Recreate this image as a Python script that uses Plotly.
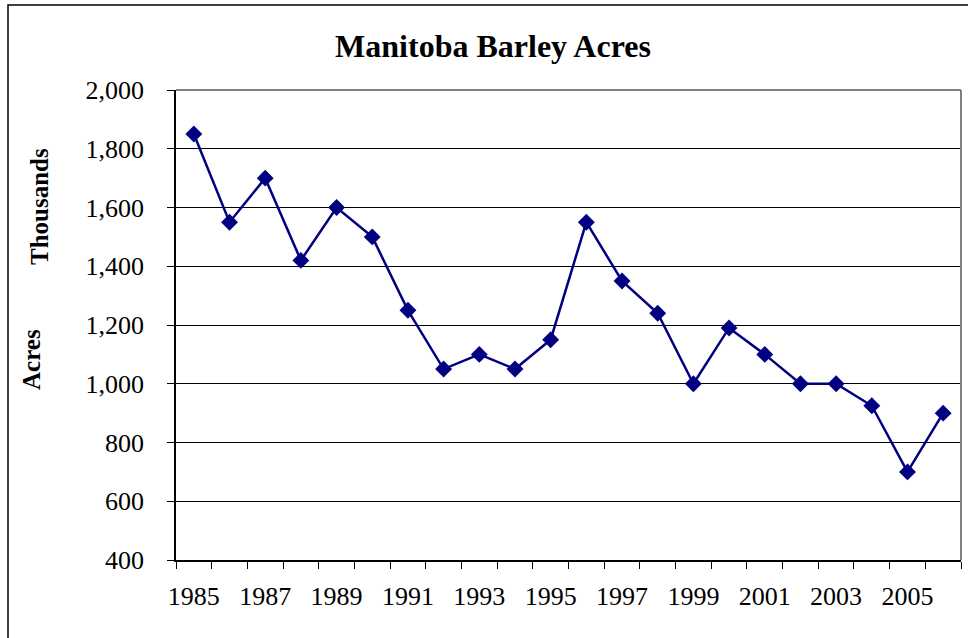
import plotly.graph_objects as go

years = list(range(1985, 2007))
acres = [1850, 1550, 1700, 1420, 1600, 1500, 1250, 1050, 1100, 1050, 1150,
         1550, 1350, 1240, 1000, 1190, 1100, 1000, 1000, 925, 700, 900]
label_years = list(range(1985, 2006, 2))
y_ticks = [400, 600, 800, 1000, 1200, 1400, 1600, 1800, 2000]

W, H = 968, 638
L, R, T, B = 176, 961, 90, 560
FONT = "Liberation Serif, Times New Roman, serif"

def px(x):
    return (x - L) / (R - L)

def py(y):
    return (B - y) / (B - T)

fig = go.Figure()
fig.add_trace(go.Scatter(
    x=years, y=acres, mode="lines+markers",
    line=dict(color="#000080", width=2.5),
    marker=dict(symbol="diamond", size=13, color="#000080"),
    xaxis="x", yaxis="y", showlegend=False,
))
fig.add_trace(go.Scatter(x=[years[0]], y=[acres[0]], mode="markers",
                         marker=dict(opacity=0), xaxis="x2", yaxis="y",
                         showlegend=False, hoverinfo="skip"))

boundaries = [y - 0.5 for y in years] + [years[-1] + 0.5]
fig.update_layout(
    width=W, height=H,
    margin=dict(l=L, r=W - R, t=T, b=H - B),
    paper_bgcolor="white", plot_bgcolor="white",
    font=dict(family=FONT, color="black", size=26),
    title=dict(text="<b>Manitoba Barley Acres</b>", x=493 / W, xanchor="center",
               y=1 - 46 / H, yanchor="middle", font=dict(size=32, family=FONT)),
    xaxis=dict(range=[1984.5, 2006.5], tickmode="array", tickvals=boundaries,
               showticklabels=False, ticks="outside", ticklen=7, tickcolor="black",
               showline=True, linecolor="black", linewidth=1.5, showgrid=False,
               zeroline=False),
    xaxis2=dict(range=[1984.5, 2006.5], overlaying="x", side="bottom",
                tickmode="array", tickvals=label_years,
                ticktext=[str(y) for y in label_years], ticks="",
                showline=False, showgrid=False, zeroline=False,
                tickfont=dict(size=26, family=FONT), ticklabelstandoff=18),
    yaxis=dict(range=[400, 2000], tickmode="array", tickvals=y_ticks,
               tickformat=",", ticks="outside", ticklen=7, tickcolor="black",
               showline=True, linecolor="black", linewidth=1.5,
               showgrid=True, gridcolor="black", gridwidth=1, zeroline=False,
               tickfont=dict(size=26, family=FONT), ticklabelstandoff=18),
    shapes=[
        dict(type="line", xref="paper", yref="paper", x0=0, x1=1, y0=1, y1=1,
             line=dict(color="#808080", width=2)),
        dict(type="line", xref="paper", yref="paper", x0=1, x1=1, y0=0, y1=1,
             line=dict(color="#808080", width=2)),
        dict(type="rect", xref="paper", yref="paper", x0=px(8), x1=px(980),
             y0=py(645), y1=py(5), line=dict(color="black", width=1.5)),
    ],
    annotations=[
        dict(text="<b>Thousands</b>", xref="paper", yref="paper", x=px(39), y=py(207),
             textangle=-90, showarrow=False, font=dict(size=25, family=FONT),
             xanchor="center", yanchor="middle"),
        dict(text="<b>Acres</b>", xref="paper", yref="paper", x=px(31), y=py(360),
             textangle=-90, showarrow=False, font=dict(size=25, family=FONT),
             xanchor="center", yanchor="middle"),
    ],
)
fig.write_html("out.html", config={"displayModeBar": False},
               post_script="document.body.style.margin='0';")
